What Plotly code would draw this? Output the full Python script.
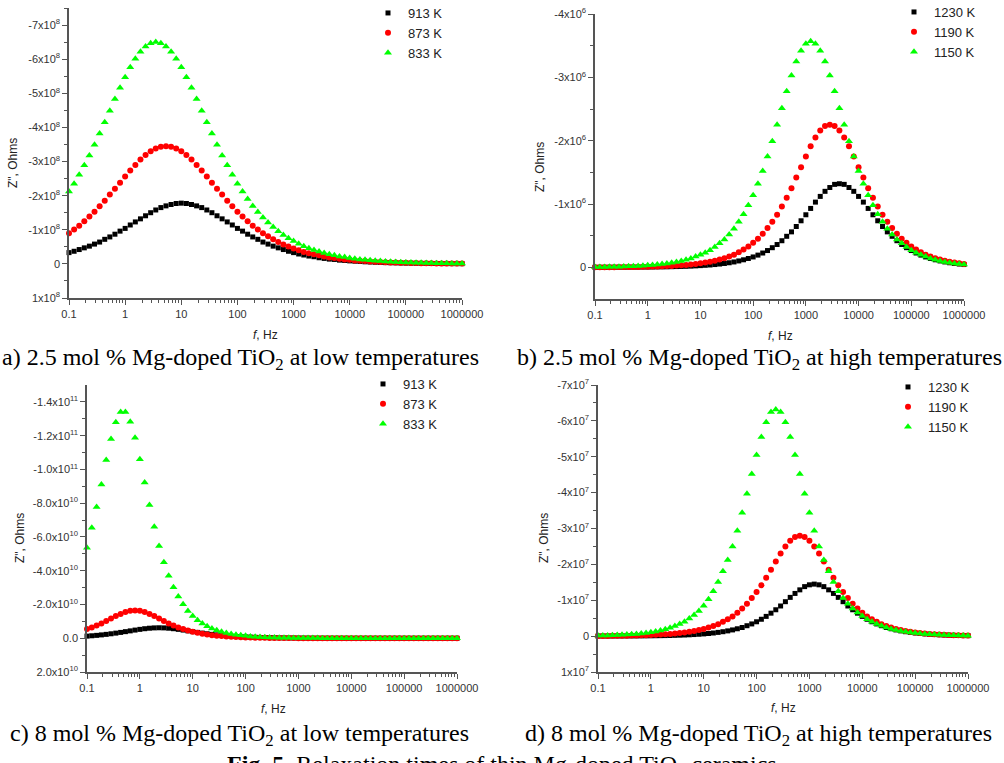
import plotly.graph_objects as go

# ---------------- data ----------------
FREQ_HZ = [
    0.1, 0.1233, 0.152, 0.1874, 0.231, 0.2848, 0.3511, 0.4329, 0.5337, 0.6579, 0.8111,
    1, 1.233, 1.52, 1.874, 2.31, 2.848, 3.511, 4.329, 5.337, 6.579, 8.111,
    10, 12.33, 15.2, 18.74, 23.1, 28.48, 35.11, 43.29, 53.37, 65.79, 81.11,
    100, 123.3, 152, 187.4, 231, 284.8, 351.1, 432.9, 533.7, 657.9, 811.1,
    1000, 1233, 1520, 1874, 2310, 2848, 3511, 4329, 5337, 6579, 8111,
    10000, 12330, 15200, 18740, 23100, 28480, 35110, 43290, 53370, 65790, 81110,
    100000, 123300, 152000, 187400, 231000, 284800, 351100, 432900, 533700, 657900, 811100,
    1000000]

# panel a: 2.5 mol% low T, -Z'' in units of 1e8 Ohm
A_SCALE = 1e8
A_913 = [0.33, 0.37, 0.42, 0.47, 0.52, 0.58, 0.64, 0.72, 0.79, 0.87, 0.96,
         1.04, 1.14, 1.23, 1.32, 1.41, 1.50, 1.58, 1.65, 1.70, 1.74, 1.77,
         1.78, 1.77, 1.74, 1.70, 1.65, 1.58, 1.50, 1.41, 1.32, 1.23, 1.14,
         1.04, 0.96, 0.87, 0.79, 0.72, 0.64, 0.58, 0.52, 0.47, 0.42, 0.37,
         0.33, 0.29, 0.26, 0.23, 0.21, 0.18, 0.16, 0.14, 0.13, 0.11, 0.10,
         0.088, 0.078, 0.069, 0.061, 0.054, 0.047, 0.042, 0.037, 0.033, 0.029, 0.025,
         0.022, 0.020, 0.017, 0.015, 0.014, 0.012, 0.011, 0.009, 0.008, 0.007, 0.006,
         0.006]
A_873 = [0.90, 1.01, 1.12, 1.25, 1.39, 1.53, 1.69, 1.85, 2.03, 2.20, 2.38,
         2.56, 2.74, 2.90, 3.06, 3.19, 3.30, 3.38, 3.43, 3.45, 3.43, 3.38,
         3.30, 3.19, 3.06, 2.90, 2.74, 2.56, 2.38, 2.20, 2.03, 1.85, 1.69,
         1.53, 1.39, 1.25, 1.12, 1.01, 0.90, 0.81, 0.72, 0.64, 0.57, 0.51,
         0.45, 0.40, 0.35, 0.31, 0.28, 0.25, 0.22, 0.19, 0.17, 0.15, 0.13,
         0.12, 0.10, 0.092, 0.081, 0.071, 0.063, 0.056, 0.049, 0.043, 0.038, 0.034,
         0.030, 0.026, 0.023, 0.020, 0.018, 0.016, 0.014, 0.012, 0.011, 0.010, 0.009,
         0.008]
A_833 = [2.12, 2.35, 2.61, 2.89, 3.18, 3.49, 3.82, 4.15, 4.49, 4.83, 5.16,
         5.47, 5.76, 6.01, 6.22, 6.37, 6.47, 6.50, 6.47, 6.37, 6.22, 6.01,
         5.76, 5.47, 5.16, 4.83, 4.49, 4.15, 3.82, 3.49, 3.18, 2.89, 2.61,
         2.35, 2.12, 1.90, 1.70, 1.52, 1.36, 1.21, 1.08, 0.96, 0.85, 0.75,
         0.67, 0.59, 0.52, 0.46, 0.41, 0.36, 0.32, 0.28, 0.25, 0.22, 0.20,
         0.17, 0.15, 0.13, 0.12, 0.105, 0.093, 0.082, 0.072, 0.064, 0.057, 0.049,
         0.044, 0.038, 0.034, 0.030, 0.027, 0.023, 0.021, 0.018, 0.016, 0.014, 0.012,
         0.011]

# panel b: 2.5 mol% high T, units of 1e6 Ohm
B_SCALE = 1e6
B_1230 = [0.001, 0.001, 0.001, 0.002, 0.002, 0.002, 0.002, 0.003, 0.003, 0.003, 0.004,
          0.004, 0.005, 0.006, 0.007, 0.008, 0.010, 0.012, 0.014, 0.016, 0.019, 0.023,
          0.027, 0.032, 0.037, 0.044, 0.052, 0.061, 0.072, 0.085, 0.101, 0.119, 0.140,
          0.164, 0.193, 0.226, 0.265, 0.31, 0.36, 0.42, 0.49, 0.56, 0.645, 0.735,
          0.83, 0.93, 1.03, 1.12, 1.20, 1.26, 1.31, 1.32, 1.31, 1.26, 1.20,
          1.12, 1.03, 0.93, 0.83, 0.735, 0.645, 0.56, 0.49, 0.42, 0.36, 0.31,
          0.265, 0.226, 0.193, 0.164, 0.140, 0.119, 0.101, 0.085, 0.072, 0.061, 0.052,
          0.044]
B_1190 = [0.002, 0.002, 0.002, 0.003, 0.003, 0.004, 0.004, 0.005, 0.006, 0.007, 0.009,
          0.010, 0.012, 0.014, 0.017, 0.020, 0.023, 0.028, 0.033, 0.038, 0.046, 0.054,
          0.063, 0.075, 0.089, 0.104, 0.123, 0.145, 0.17, 0.20, 0.24, 0.28, 0.33,
          0.39, 0.45, 0.53, 0.62, 0.72, 0.83, 0.96, 1.10, 1.25, 1.42, 1.58,
          1.75, 1.91, 2.05, 2.16, 2.23, 2.25, 2.23, 2.16, 2.05, 1.91, 1.75,
          1.58, 1.42, 1.25, 1.10, 0.96, 0.83, 0.72, 0.62, 0.53, 0.45, 0.39,
          0.33, 0.28, 0.24, 0.20, 0.17, 0.145, 0.123, 0.104, 0.089, 0.075, 0.063,
          0.054]
B_1150 = [0.005, 0.006, 0.007, 0.008, 0.010, 0.011, 0.014, 0.016, 0.019, 0.022, 0.026,
          0.031, 0.037, 0.044, 0.052, 0.061, 0.072, 0.085, 0.10, 0.12, 0.14, 0.17,
          0.20, 0.23, 0.27, 0.32, 0.38, 0.44, 0.52, 0.61, 0.72, 0.84, 0.98,
          1.14, 1.32, 1.52, 1.75, 1.99, 2.25, 2.51, 2.78, 3.03, 3.25, 3.42,
          3.53, 3.57, 3.53, 3.42, 3.25, 3.03, 2.78, 2.51, 2.25, 1.99, 1.75,
          1.52, 1.32, 1.14, 0.98, 0.84, 0.72, 0.61, 0.52, 0.44, 0.38, 0.32,
          0.27, 0.23, 0.20, 0.17, 0.14, 0.12, 0.10, 0.085, 0.072, 0.061, 0.052,
          0.044]

# panel c: 8 mol% low T, units of 1e10 Ohm
C_SCALE = 1e10
C_913 = [0.125, 0.146, 0.170, 0.198, 0.229, 0.264, 0.303, 0.345, 0.390, 0.436, 0.483,
         0.526, 0.564, 0.594, 0.613, 0.62, 0.613, 0.594, 0.564, 0.526, 0.483, 0.436,
         0.390, 0.345, 0.303, 0.264, 0.229, 0.198, 0.170, 0.146, 0.125, 0.106, 0.091,
         0.077, 0.066, 0.056, 0.047, 0.040, 0.034, 0.029, 0.024, 0.021, 0.017, 0.015,
         0.013, 0.011, 0.009, 0.008, 0.007, 0.006, 0.005, 0.004, 0.004, 0.003, 0.003,
         0.002, 0.002, 0.002, 0.002, 0.002, 0.002, 0.002, 0.002, 0.002, 0.002, 0.002,
         0.001, 0.001, 0.001, 0.001, 0.001, 0.001, 0.001, 0.001, 0.001, 0.001, 0.001,
         0.001]
C_873 = [0.54, 0.64, 0.76, 0.88, 1.02, 1.17, 1.31, 1.44, 1.55, 1.625, 1.65,
         1.625, 1.55, 1.44, 1.31, 1.17, 1.02, 0.88, 0.76, 0.64, 0.54, 0.455,
         0.38, 0.32, 0.27, 0.22, 0.18, 0.15, 0.13, 0.105, 0.087, 0.073, 0.060,
         0.050, 0.041, 0.034, 0.028, 0.024, 0.019, 0.016, 0.013, 0.011, 0.009, 0.008,
         0.006, 0.005, 0.004, 0.004, 0.003, 0.003, 0.002, 0.002, 0.002, 0.002, 0.001,
         0.001, 0.001, 0.001, 0.001, 0.001, 0.001, 0.001, 0.001, 0.001, 0.001, 0.001,
         0.001, 0.001, 0.001, 0.001, 0.001, 0.001, 0.001, 0.001, 0.001, 0.001, 0.001,
         0.001]
C_833 = [5.36, 6.54, 7.77, 9.10, 10.56, 11.80, 12.80, 13.40, 13.40, 12.83, 11.88,
         10.60, 9.23, 7.89, 6.60, 5.47, 4.50, 3.70, 3.02, 2.47, 2.01, 1.62,
         1.31, 1.07, 0.87, 0.71, 0.58, 0.47, 0.38, 0.31, 0.25, 0.21, 0.17,
         0.14, 0.11, 0.09, 0.074, 0.06, 0.05, 0.04, 0.033, 0.027, 0.022, 0.018,
         0.015, 0.012, 0.01, 0.008, 0.007, 0.006, 0.005, 0.004, 0.003, 0.003, 0.002,
         0.002, 0.002, 0.002, 0.002, 0.002, 0.002, 0.002, 0.002, 0.002, 0.002, 0.002,
         0.001, 0.001, 0.001, 0.001, 0.001, 0.001, 0.001, 0.001, 0.001, 0.001, 0.001,
         0.001]

# panel d: 8 mol% high T, units of 1e7 Ohm
D_SCALE = 1e7
D_1230 = [0.0014, 0.0017, 0.002, 0.0023, 0.0028, 0.0033, 0.0039, 0.0046, 0.0055, 0.0065, 0.008,
          0.009, 0.011, 0.013, 0.015, 0.018, 0.022, 0.026, 0.031, 0.037, 0.044, 0.052,
          0.062, 0.073, 0.087, 0.104, 0.123, 0.146, 0.173, 0.205, 0.24, 0.29, 0.34,
          0.40, 0.47, 0.55, 0.64, 0.735, 0.84, 0.96, 1.08, 1.19, 1.29, 1.38,
          1.43, 1.45, 1.43, 1.38, 1.29, 1.19, 1.08, 0.96, 0.84, 0.735, 0.64,
          0.55, 0.47, 0.40, 0.34, 0.29, 0.24, 0.205, 0.173, 0.146, 0.123, 0.104,
          0.087, 0.073, 0.062, 0.052, 0.044, 0.037, 0.031, 0.026, 0.022, 0.018, 0.015,
          0.013]
D_1190 = [0.0045, 0.005, 0.006, 0.008, 0.009, 0.011, 0.013, 0.015, 0.018, 0.021, 0.025,
          0.030, 0.035, 0.042, 0.050, 0.060, 0.071, 0.084, 0.10, 0.12, 0.14, 0.17,
          0.20, 0.24, 0.28, 0.33, 0.40, 0.47, 0.55, 0.65, 0.77, 0.90, 1.06,
          1.23, 1.42, 1.63, 1.85, 2.08, 2.30, 2.50, 2.66, 2.76, 2.80, 2.76,
          2.66, 2.50, 2.30, 2.08, 1.85, 1.63, 1.42, 1.23, 1.06, 0.90, 0.77,
          0.65, 0.55, 0.47, 0.40, 0.33, 0.28, 0.24, 0.20, 0.17, 0.14, 0.12,
          0.10, 0.084, 0.071, 0.060, 0.050, 0.042, 0.035, 0.030, 0.025, 0.021, 0.018,
          0.015]
D_1150 = [0.014, 0.017, 0.020, 0.024, 0.029, 0.035, 0.042, 0.051, 0.062, 0.075, 0.09,
          0.11, 0.13, 0.16, 0.19, 0.23, 0.28, 0.335, 0.40, 0.49, 0.59, 0.70,
          0.85, 1.03, 1.25, 1.51, 1.81, 2.12, 2.50, 2.94, 3.44, 3.97, 4.52,
          5.05, 5.55, 5.96, 6.25, 6.32, 6.25, 5.96, 5.55, 5.05, 4.52, 3.97,
          3.44, 2.94, 2.50, 2.12, 1.81, 1.51, 1.25, 1.06, 0.90, 0.77, 0.66,
          0.56, 0.47, 0.40, 0.34, 0.29, 0.24, 0.20, 0.17, 0.145, 0.12, 0.10,
          0.087, 0.073, 0.062, 0.052, 0.044, 0.037, 0.031, 0.026, 0.022, 0.018, 0.015,
          0.013]

LOW_T_LABELS = ["913 K", "873 K", "833 K"]
HIGH_T_LABELS = ["1230 K", "1190 K", "1150 K"]

X_TICK_VALS = [0.1, 1, 10, 100, 1000, 10000, 100000, 1000000]
X_TICK_TEXT = ["0.1", "1", "10", "100", "1000", "10000", "100000", "1000000"]

A_Y_TICKS = [1e8, 0, -1e8, -2e8, -3e8, -4e8, -5e8, -6e8, -7e8]
A_Y_TEXT = ["1x10<sup>8</sup>", "0"] + ["-%dx10<sup>8</sup>" % i for i in range(1, 8)]
B_Y_TICKS = [0, -1e6, -2e6, -3e6, -4e6]
B_Y_TEXT = ["0"] + ["-%dx10<sup>6</sup>" % i for i in range(1, 5)]
C_Y_TICKS = [2e10, 0, -2e10, -4e10, -6e10, -8e10, -1.0e11, -1.2e11, -1.4e11]
C_Y_TEXT = ["2.0x10<sup>10</sup>", "0.0", "-2.0x10<sup>10</sup>", "-4.0x10<sup>10</sup>",
            "-6.0x10<sup>10</sup>", "-8.0x10<sup>10</sup>", "-1.0x10<sup>11</sup>",
            "-1.2x10<sup>11</sup>", "-1.4x10<sup>11</sup>"]
D_Y_TICKS = [1e7, 0, -1e7, -2e7, -3e7, -4e7, -5e7, -6e7, -7e7]
D_Y_TEXT = ["1x10<sup>7</sup>", "0"] + ["-%dx10<sup>7</sup>" % i for i in range(1, 8)]

CAPTIONS = [
    "a) 2.5 mol % Mg-doped TiO<sub>2</sub> at low temperatures",
    "b) 2.5 mol % Mg-doped TiO<sub>2</sub> at high temperatures",
    "c) 8 mol % Mg-doped TiO<sub>2</sub> at low temperatures",
    "d) 8 mol % Mg-doped TiO<sub>2</sub> at high temperatures",
]
FIG_CAPTION = "<b>Fig. 5.</b> Relaxation times of thin Mg-doped TiO<sub>2</sub> ceramics"

# ---------------- layout helpers ----------------
W, H = 1004, 763


def px(x):
    return x / W


def py(y):
    return 1 - y / H


AX = "#555555"
TICK_FONT = dict(family="Liberation Sans, Arial, sans-serif", size=11, color="#333333")
SANS = "Liberation Sans, Arial, sans-serif"
SERIF = "Liberation Serif, Times New Roman, serif"

STYLES = [
    dict(symbol="square", color="#000000", size=5),
    dict(symbol="circle", color="#ff0000", size=6),
    dict(symbol="triangle-up", color="#00ff00", size=7),
]

X_MINOR = [m * 10 ** d for d in range(-1, 6) for m in range(2, 10)]

PANELS = [
    dict(xa="x", ya="y", leg="legend", scale=A_SCALE, labels=LOW_T_LABELS,
         series=[A_913, A_873, A_833],
         xpx=(69, 462), ypx=(8, 298), yrange=[1e8, -7.5e8],
         yticks=A_Y_TICKS, ytext=A_Y_TEXT, yminor=[0.5e8 - i * 1e8 for i in range(9)],
         leg_pos=(368, -2)),
    dict(xa="x2", ya="y2", leg="legend2", scale=B_SCALE, labels=HIGH_T_LABELS,
         series=[B_1230, B_1190, B_1150],
         xpx=(595, 964), ypx=(14, 299), yrange=[0.5e6, -4e6],
         yticks=B_Y_TICKS, ytext=B_Y_TEXT, yminor=[-0.5e6 - i * 1e6 for i in range(4)],
         leg_pos=(894, -3)),
    dict(xa="x3", ya="y3", leg="legend3", scale=C_SCALE, labels=LOW_T_LABELS,
         series=[C_913, C_873, C_833],
         xpx=(87, 457), ypx=(385, 672), yrange=[2e10, -1.5e11],
         yticks=C_Y_TICKS, ytext=C_Y_TEXT, yminor=[1e10 - i * 2e10 for i in range(8)],
         leg_pos=(363, 369)),
    dict(xa="x4", ya="y4", leg="legend4", scale=D_SCALE, labels=HIGH_T_LABELS,
         series=[D_1230, D_1190, D_1150],
         xpx=(598, 968), ypx=(385, 672), yrange=[1e7, -7e7],
         yticks=D_Y_TICKS, ytext=D_Y_TEXT, yminor=[0.5e7 - i * 1e7 for i in range(8)],
         leg_pos=(888, 372)),
]

fig = go.Figure()
layout = dict(
    width=W, height=H, margin=dict(l=0, r=0, t=0, b=0, pad=0, autoexpand=False),
    paper_bgcolor="white", plot_bgcolor="white",
    font=dict(family=SANS, color="#222222"),
    annotations=[],
)

for p in PANELS:
    for label, vals, st in zip(p["labels"], p["series"], STYLES):
        fig.add_trace(go.Scatter(
            x=FREQ_HZ, y=[-v * p["scale"] for v in vals], mode="markers", name=label,
            marker=dict(symbol=st["symbol"], color=st["color"], size=st["size"],
                        line=dict(width=0)),
            xaxis=p["xa"], yaxis=p["ya"], legend=p["leg"], cliponaxis=False,
        ))
    xkey = "xaxis" + p["xa"][1:]
    ykey = "yaxis" + p["ya"][1:]
    layout[xkey] = dict(
        type="log", range=[-1, 6], domain=[px(p["xpx"][0]), px(p["xpx"][1])],
        anchor=p["ya"], tickvals=X_TICK_VALS, ticktext=X_TICK_TEXT,
        ticks="outside", ticklen=5, tickwidth=1.2, tickcolor=AX, automargin=False,
        showline=True, linecolor=AX, linewidth=1.5, showgrid=False, zeroline=False,
        tickfont=TICK_FONT,
        minor=dict(tickvals=X_MINOR, ticks="outside", ticklen=3, tickwidth=1,
                   tickcolor=AX, showgrid=False),
    )
    layout[ykey] = dict(
        range=p["yrange"], domain=[py(p["ypx"][1]), py(p["ypx"][0])],
        anchor=p["xa"], tickvals=p["yticks"], ticktext=p["ytext"],
        ticks="outside", ticklen=5, tickwidth=1.2, tickcolor=AX, automargin=False,
        showline=True, linecolor=AX, linewidth=1.5, showgrid=False, zeroline=False,
        tickfont=TICK_FONT,
        minor=dict(tickvals=p["yminor"], ticks="outside", ticklen=3, tickwidth=1,
                   tickcolor=AX, showgrid=False),
    )
    layout[p["leg"]] = dict(
        x=px(p["leg_pos"][0]), y=py(p["leg_pos"][1]), xanchor="left", yanchor="top",
        bgcolor="rgba(0,0,0,0)", borderwidth=0,
        font=dict(family=SANS, size=13, color="#222222"), itemwidth=30,
    )

# axis titles
Y_TITLE_POS = [(13, 163), (540, 167), (20, 538), (544, 538)]
X_TITLE_POS = [(265, 335), (780, 336), (273, 709), (783, 708)]
for (x, y) in Y_TITLE_POS:
    layout["annotations"].append(dict(
        text='Z", Ohms', x=px(x), y=py(y), xref="paper", yref="paper",
        showarrow=False, textangle=-90, xanchor="center", yanchor="middle",
        font=dict(family=SANS, size=12, color="#222222")))
for (x, y) in X_TITLE_POS:
    layout["annotations"].append(dict(
        text="<i>f</i>, Hz", x=px(x), y=py(y), xref="paper", yref="paper",
        showarrow=False, xanchor="center", yanchor="middle",
        font=dict(family=SANS, size=12, color="#222222")))

CAPTION_POS = [(0, 359), (515, 359), (8, 735), (523, 735)]
for text, (x, y) in zip(CAPTIONS, CAPTION_POS):
    layout["annotations"].append(dict(
        text=text, x=px(x), y=py(y), xref="paper", yref="paper", showarrow=False,
        xanchor="left", yanchor="middle",
        font=dict(family=SERIF, size=24, color="#000000")))
layout["annotations"].append(dict(
    text=FIG_CAPTION, x=px(502), y=py(766), xref="paper", yref="paper", showarrow=False,
    xanchor="center", yanchor="middle",
    font=dict(family=SERIF, size=24, color="#000000")))

fig.update_layout(**layout)
fig.write_html("out.html",
               config={"displayModeBar": False},
               post_script="document.body.style.margin='0px';"
                           "document.body.style.overflow='hidden';")
